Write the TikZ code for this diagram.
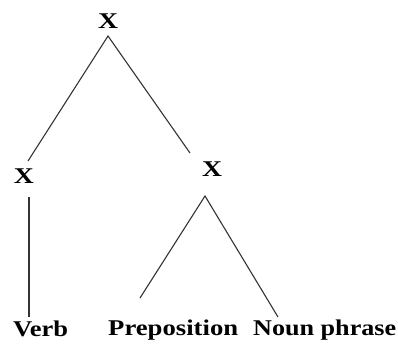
\documentclass[tikz,border=0pt]{standalone}
\usepackage{fontspec}
\setmainfont{Liberation Serif}
\newcommand{\fitw}[2]{\resizebox{#1}{\height}{#2}}
\begin{document}
\begin{tikzpicture}[x=1pt,y=-1pt,
  lbl/.style={inner sep=0pt,font=\fontsize{22.5}{24}\selectfont\bfseries},
  branch/.style={draw=black!80,line width=1.1pt}]
\useasboundingbox (0,0) rectangle (398,343);
\node[lbl,anchor=base] (top) at (108,28) {\fitw{20pt}{X}};
\node[lbl,anchor=base] (lx) at (24,183) {\fitw{20pt}{X}};
\node[lbl,anchor=base] (rx) at (212,176) {\fitw{20pt}{X}};
\node[lbl,anchor=base west] (verb) at (13,336) {\fitw{55pt}{Verb}};
\node[lbl,anchor=base west] (prep) at (108,335) {\fitw{130pt}{Preposition}};
\node[lbl,anchor=base west] (np) at (253,335) {\fitw{143pt}{Noun phrase}};
\coordinate (a1) at (108,36);
\coordinate (l1) at (28,161);
\coordinate (r1) at (190,153);
\coordinate (v1) at (29,197);
\coordinate (v2) at (29,317);
\coordinate (a2) at (205,196);
\coordinate (p1) at (140,298);
\coordinate (n1) at (278,317);
\draw[branch] (l1) -- (a1) -- (r1);
\draw[branch] (v1) -- (v2);
\draw[branch] (p1) -- (a2) -- (n1);
\end{tikzpicture}
\end{document}
